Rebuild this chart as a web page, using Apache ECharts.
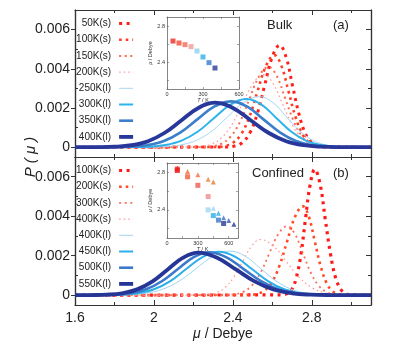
<!DOCTYPE html>
<html>
<head>
<meta charset="utf-8">
<script src="https://cdn.jsdelivr.net/npm/echarts@6/dist/echarts.min.js"></script>
<style>
html, body { margin: 0; padding: 0; background: #fff; }
#chart { width: 401px; height: 349px; }
</style>
</head>
<body>
<div id="chart"></div>
<script>
// ---- data: mu in Debye, P(mu) ----
// (a) Bulk
var bulk50sMu  = [1.6, 2.371, 2.409, 2.447, 2.485, 2.523, 2.561, 2.599, 2.637, 2.670, 2.702, 2.735, 2.767, 2.800, 2.832, 2.865, 3.1];
var bulk50sP   = [0, 0.000011, 0.000058, 0.000228, 0.000704, 0.001688, 0.003154, 0.004589, 0.0052, 0.004589, 0.003154, 0.001688, 0.000704, 0.000228, 0.000058, 0.000011, 0];
var bulk100sMu = [1.6, 2.313, 2.355, 2.398, 2.44, 2.483, 2.525, 2.568, 2.61, 2.646, 2.682, 2.718, 2.754, 2.79, 2.826, 2.862, 3.1];
var bulk100sP  = [0, 0.00001, 0.000052, 0.000206, 0.000636, 0.001526, 0.002851, 0.004148, 0.0047, 0.004148, 0.002851, 0.001526, 0.000636, 0.000206, 0.000052, 0.00001, 0];
var bulk150sMu = [1.6, 2.248, 2.295, 2.343, 2.39, 2.438, 2.485, 2.533, 2.58, 2.623, 2.665, 2.708, 2.75, 2.793, 2.835, 2.878, 3.1];
var bulk150sP  = [0, 0.000009, 0.000046, 0.00018, 0.000555, 0.001331, 0.002487, 0.003618, 0.0041, 0.003618, 0.002487, 0.001331, 0.000555, 0.00018, 0.000046, 0.000009, 0];
var bulk200sMu = [1.6, 2.188, 2.24, 2.293, 2.345, 2.398, 2.45, 2.503, 2.555, 2.603, 2.65, 2.698, 2.745, 2.793, 2.84, 2.888, 3.1];
var bulk200sP  = [0, 0.000008, 0.000041, 0.000162, 0.000501, 0.001201, 0.002244, 0.003265, 0.0037, 0.003265, 0.002244, 0.001201, 0.000501, 0.000162, 0.000041, 0.000008, 0];
var bulk250lMu = [1.6, 1.975, 2.055, 2.135, 2.215, 2.295, 2.375, 2.455, 2.535, 2.603, 2.67, 2.738, 2.805, 2.873, 2.94, 3.008, 3.1];
var bulk250lP  = [0, 0.000006, 0.000029, 0.000113, 0.000349, 0.000838, 0.001565, 0.002277, 0.00258, 0.002277, 0.001565, 0.000838, 0.000349, 0.000113, 0.000029, 0.000006, 0];
var bulk300lMu = [1.6, 1.893, 1.975, 2.058, 2.14, 2.223, 2.305, 2.388, 2.47, 2.545, 2.62, 2.695, 2.77, 2.845, 2.92, 2.995, 3.1];
var bulk300lP  = [0, 0.000005, 0.000027, 0.000108, 0.000333, 0.000799, 0.001492, 0.002171, 0.00246, 0.002171, 0.001492, 0.000799, 0.000333, 0.000108, 0.000027, 0.000005, 0];
var bulk350lMu = [1.6, 1.795, 1.88, 1.965, 2.05, 2.135, 2.22, 2.305, 2.39, 2.473, 2.555, 2.638, 2.72, 2.803, 2.885, 2.968, 3.1];
var bulk350lP  = [0, 0.000005, 0.000026, 0.000103, 0.000317, 0.00076, 0.001419, 0.002065, 0.00234, 0.002065, 0.001419, 0.00076, 0.000317, 0.000103, 0.000026, 0.000005, 0];
var bulk400lMu = [1.6, 1.715, 1.8, 1.885, 1.97, 2.055, 2.14, 2.225, 2.31, 2.4, 2.49, 2.58, 2.67, 2.76, 2.85, 2.94, 3.1];
var bulk400lP  = [0, 0.000005, 0.000025, 0.0001, 0.000307, 0.000737, 0.001377, 0.002003, 0.00227, 0.002003, 0.001377, 0.000737, 0.000307, 0.0001, 0.000025, 0.000005, 0];

// (b) Confined
var conf100sMu = [1.6, 2.651, 2.674, 2.698, 2.721, 2.745, 2.768, 2.792, 2.815, 2.842, 2.868, 2.895, 2.921, 2.948, 2.974, 3.001, 3.1];
var conf100sP  = [0, 0.000014, 0.000071, 0.00028, 0.000862, 0.002068, 0.003863, 0.005622, 0.00637, 0.005622, 0.003863, 0.002068, 0.000862, 0.00028, 0.000071, 0.000014, 0];
var conf200sMu = [1.6, 2.475, 2.515, 2.555, 2.595, 2.635, 2.675, 2.715, 2.755, 2.785, 2.815, 2.845, 2.875, 2.905, 2.935, 2.965, 3.1];
var conf200sP  = [0, 0.00001, 0.00005, 0.000198, 0.000609, 0.001461, 0.002729, 0.003971, 0.0045, 0.003971, 0.002729, 0.001461, 0.000609, 0.000198, 0.00005, 0.00001, 0];
var conf300sMu = [1.6, 2.36, 2.405, 2.45, 2.495, 2.54, 2.585, 2.63, 2.675, 2.715, 2.755, 2.795, 2.835, 2.875, 2.915, 2.955, 3.1];
var conf300sP  = [0, 0.000008, 0.000039, 0.000154, 0.000474, 0.001136, 0.002123, 0.003089, 0.0035, 0.003089, 0.002123, 0.001136, 0.000474, 0.000154, 0.000039, 0.000008, 0];
var conf400sMu = [1.6, 2.225, 2.27, 2.315, 2.36, 2.405, 2.45, 2.495, 2.54, 2.605, 2.67, 2.735, 2.8, 2.865, 2.93, 2.995, 3.1];
var conf400sP  = [0, 0.000006, 0.000031, 0.000124, 0.000382, 0.000916, 0.00171, 0.002489, 0.00282, 0.002489, 0.00171, 0.000916, 0.000382, 0.000124, 0.000031, 0.000006, 0];
var conf400lMu = [1.6, 1.79, 1.875, 1.96, 2.045, 2.13, 2.215, 2.3, 2.385, 2.463, 2.54, 2.618, 2.695, 2.773, 2.85, 2.928, 3.1];
var conf400lP  = [0, 0.000005, 0.000025, 0.000098, 0.000302, 0.000724, 0.001353, 0.001968, 0.00223, 0.001968, 0.001353, 0.000724, 0.000302, 0.000098, 0.000025, 0.000005, 0];
var conf450lMu = [1.6, 1.753, 1.835, 1.918, 2.0, 2.083, 2.165, 2.248, 2.33, 2.413, 2.495, 2.578, 2.66, 2.743, 2.825, 2.908, 3.1];
var conf450lP  = [0, 0.000005, 0.000024, 0.000097, 0.000298, 0.000714, 0.001334, 0.001942, 0.0022, 0.001942, 0.001334, 0.000714, 0.000298, 0.000097, 0.000024, 0.000005, 0];
var conf500lMu = [1.6, 1.72, 1.8, 1.88, 1.96, 2.04, 2.12, 2.2, 2.28, 2.368, 2.455, 2.543, 2.63, 2.718, 2.805, 2.893, 3.1];
var conf500lP  = [0, 0.000005, 0.000024, 0.000095, 0.000294, 0.000705, 0.001316, 0.001915, 0.00217, 0.001915, 0.001316, 0.000705, 0.000294, 0.000095, 0.000024, 0.000005, 0];
var conf550lMu = [1.6, 1.683, 1.76, 1.838, 1.915, 1.993, 2.07, 2.148, 2.225, 2.32, 2.415, 2.51, 2.605, 2.7, 2.795, 2.89, 3.1];
var conf550lP  = [0, 0.000005, 0.000024, 0.000094, 0.000291, 0.000698, 0.001304, 0.001897, 0.00215, 0.001897, 0.001304, 0.000698, 0.000291, 0.000094, 0.000024, 0.000005, 0];

var bulkLabels = ['50K(s)', '100K(s)', '150K(s)', '200K(s)', '250K(l)', '300K(l)', '350K(l)', '400K(l)'];
var confLabels = ['100K(s)', '200K(s)', '300K(s)', '400K(s)', '400K(l)', '450K(l)', '500K(l)', '550K(l)'];

// insets: mean dipole vs T
var insetAT  = [50, 100, 150, 200, 250, 300, 350, 400];
var insetAMu = [2.633, 2.611, 2.593, 2.571, 2.522, 2.456, 2.393, 2.333];
var insetBSquareT  = [100, 100, 200, 300, 400, 400, 450, 500, 550];
var insetBSquareMu = [2.82, 2.835, 2.753, 2.662, 2.542, 2.40, 2.339, 2.291, 2.255];
var insetBTriT  = [100, 200, 300, 400, 450, 450, 500, 550, 600, 650];
var insetBTriMu = [2.845, 2.81, 2.775, 2.727, 2.698, 2.418, 2.364, 2.317, 2.288, 2.247];

var pTicks = [0, 0.002, 0.004, 0.006];
var pMinorTicks = [0.001, 0.003, 0.005];
var insetMuTicks = [2.2, 2.4, 2.6, 2.8];
var insetMuLabels = [2.4, 2.8];

// ---- styles ----
var FONT = 'Liberation Sans, Arial, sans-serif';
var bulkColors = ['#ff1f1a', '#ff3d24', '#ff6a52', '#ff9e9e', '#a6d8f2', '#2db3ec', '#3b7fcb', '#27379a'];
var bulkWidths = [3, 2.6, 2, 1.3, 1, 2, 2.6, 3.8];
var confColors = ['#ff1a1a', '#ff4a26', '#ff6e5a', '#ff9a9a', '#9fd5f0', '#2aafea', '#3b7acb', '#263696'];
var confWidths = [3.2, 2.6, 1.8, 1.2, 1, 2, 2.6, 3.8];
var dashes = [[3, 4.5], [2.6, 4], [2, 3.6], [1.6, 3], 'solid', 'solid', 'solid', 'solid'];
var insetAColors = ['#ee2a1e', '#f0482e', '#f06a5a', '#f09a9a', '#8fd0ef', '#2fb0ea', '#3a7ccc', '#2a3c98'];
var insetBSquareColors = ['#f01818', '#f02a20', '#f25a3a', '#ee5a50', '#f08c8c', '#a0d6f0', '#2aaee8', '#3a78c8', '#283a96'];
var insetBTriColors = ['#f02020', '#f26a3a', '#f27048', '#f08038', '#e87830', '#a0d6f0', '#2aaee8', '#3a78c8', '#3a5ab8', '#283a96'];

var myChart = echarts.init(document.getElementById('chart'), null, {renderer: 'canvas'});

function zip(xs, ys) {
    return xs.map(function (x, i) { return [x, ys[i]]; });
}

function curve(name, mu, p, color, width, dash, xi, yi) {
    return {
        name: name,
        type: 'line',
        xAxisIndex: xi,
        yAxisIndex: yi,
        data: zip(mu, p),
        smooth: 0.4,
        symbol: 'none',
        silent: true,
        lineStyle: {color: color, width: width, type: dash, cap: 'butt'},
        itemStyle: {color: color}
    };
}

function mainX(grid, pos, labels) {
    return {
        type: 'value', gridIndex: grid, position: pos,
        min: 1.6, max: 3.1, interval: 0.4,
        name: labels ? '{i|\u03bc} / Debye' : '',
        nameLocation: 'middle', nameGap: 22,
        nameTextStyle: {fontSize: 14, color: '#222', fontFamily: FONT,
            rich: {i: {fontStyle: 'italic', fontSize: 14, fontFamily: FONT, color: '#222'}}},
        axisLine: {show: true, onZero: false, lineStyle: {color: '#333', width: 1.2}},
        axisTick: {show: true, inside: true, length: 5, lineStyle: {color: '#333'}},
        minorTick: {show: true, splitNumber: 2, length: 3, lineStyle: {color: '#333'}},
        axisLabel: {show: labels, fontSize: 14, color: '#222', fontFamily: FONT, margin: 6, showMaxLabel: false},
        splitLine: {show: false}
    };
}

function mainY(grid, pos, ticks, inside, len, labels) {
    return {
        type: 'value', gridIndex: grid, position: pos,
        min: -0.0005, max: 0.007,
        axisLine: {show: true, onZero: false, lineStyle: {color: '#333', width: 1.2}},
        axisTick: {show: true, inside: inside, length: len, customValues: ticks, lineStyle: {color: '#333'}},
        axisLabel: {
            show: labels, customValues: ticks, fontSize: 14, color: '#222', fontFamily: FONT, margin: 5,
            formatter: function (v) { return v === 0 ? '0' : v.toFixed(3); }
        },
        splitLine: {show: false}
    };
}

function insetX(grid, pos, max, labels) {
    return {
        type: 'value', gridIndex: grid, position: pos,
        min: 0, max: max, interval: 150,
        name: labels ? '{i|T} / K' : '',
        nameLocation: 'middle', nameGap: 7,
        nameTextStyle: {fontSize: 5.5, color: '#333', fontFamily: FONT,
            rich: {i: {fontStyle: 'italic', fontSize: 5.5, color: '#333', fontFamily: FONT}}},
        axisLine: {show: true, onZero: false, lineStyle: {color: '#666', width: 0.8}},
        axisTick: {show: true, inside: true, length: 2, lineStyle: {color: '#666', width: 0.6}},
        axisLabel: {
            show: labels, fontSize: 5.5, color: '#333', fontFamily: FONT, margin: 2,
            formatter: function (v) { return v % 300 === 0 ? String(v) : ''; }
        },
        splitLine: {show: false}
    };
}

function insetY(grid, pos, labels) {
    return {
        type: 'value', gridIndex: grid, position: pos,
        min: 2.1, max: 2.9,
        name: labels ? '{i|\u03bc} / Debye' : '',
        nameLocation: 'middle', nameGap: 11, nameRotate: 90,
        nameTextStyle: {fontSize: 5.5, color: '#333', fontFamily: FONT,
            rich: {i: {fontStyle: 'italic', fontSize: 5.5, color: '#333', fontFamily: FONT}}},
        axisLine: {show: true, onZero: false, lineStyle: {color: '#666', width: 0.8}},
        axisTick: {show: true, inside: true, length: 2, customValues: insetMuTicks, lineStyle: {color: '#666', width: 0.6}},
        axisLabel: {show: labels, customValues: insetMuLabels, fontSize: 5.5, color: '#333', fontFamily: FONT, margin: 2,
            formatter: function (v) { return v.toFixed(1); }},
        splitLine: {show: false}
    };
}

function legendFor(names, top) {
    return {
        data: names,
        orient: 'vertical',
        align: 'right',
        right: 266,
        top: top,
        padding: 0,
        itemWidth: 14,
        itemHeight: 10,
        itemGap: 6.2,
        selectedMode: false,
        formatter: function (n) { return n.split('|')[1]; },
        textStyle: {fontSize: 10, color: '#222', fontFamily: FONT, padding: [0, 3, 0, 0]},
        itemStyle: {color: 'rgba(0,0,0,0)', borderWidth: 0, opacity: 0},
        lineStyle: {width: 'inherit', type: 'inherit'}
    };
}

var bulkMu = [bulk50sMu, bulk100sMu, bulk150sMu, bulk200sMu, bulk250lMu, bulk300lMu, bulk350lMu, bulk400lMu];
var bulkP = [bulk50sP, bulk100sP, bulk150sP, bulk200sP, bulk250lP, bulk300lP, bulk350lP, bulk400lP];
var confMu = [conf100sMu, conf200sMu, conf300sMu, conf400sMu, conf400lMu, conf450lMu, conf500lMu, conf550lMu];
var confP = [conf100sP, conf200sP, conf300sP, conf400sP, conf400lP, conf450lP, conf500lP, conf550lP];

var bulkNames = bulkLabels.map(function (l) { return 'a|' + l; });
var confNames = confLabels.map(function (l) { return 'b|' + l; });

var series = [];
// dotted (solid-phase) curves first so the liquid lines sit on top
for (var i = 0; i < 8; i++) {
    series.push(curve(bulkNames[i], bulkMu[i], bulkP[i], bulkColors[i], bulkWidths[i], dashes[i], 0, 0));
}
for (var j = 0; j < 8; j++) {
    series.push(curve(confNames[j], confMu[j], confP[j], confColors[j], confWidths[j], dashes[j], 2, 4));
}

series.push({
    type: 'scatter', xAxisIndex: 4, yAxisIndex: 8, symbol: 'rect', symbolSize: 5, silent: true,
    data: zip(insetAT, insetAMu),
    itemStyle: {color: function (p) { return insetAColors[p.dataIndex]; }}
});
series.push({
    type: 'scatter', xAxisIndex: 6, yAxisIndex: 10, symbol: 'rect', symbolSize: 5, silent: true,
    data: zip(insetBSquareT, insetBSquareMu),
    itemStyle: {color: function (p) { return insetBSquareColors[p.dataIndex]; }}
});
series.push({
    type: 'scatter', xAxisIndex: 6, yAxisIndex: 10, symbol: 'triangle', symbolSize: 5, silent: true,
    data: zip(insetBTriT, insetBTriMu),
    itemStyle: {color: function (p) { return insetBTriColors[p.dataIndex]; }}
});

var option = {
    animation: false,
    backgroundColor: '#fff',
    textStyle: {fontFamily: FONT},
    grid: [
        {left: 75, top: 10, width: 296, height: 147},
        {left: 75, top: 157, width: 296, height: 148},
        {left: 167, top: 17, width: 72, height: 72},
        {left: 167, top: 163, width: 71, height: 75}
    ],
    xAxis: [
        mainX(0, 'bottom', false), mainX(0, 'top', false),
        mainX(1, 'bottom', true), mainX(1, 'top', false),
        insetX(2, 'bottom', 600, true), insetX(2, 'top', 600, false),
        insetX(3, 'bottom', 690, true), insetX(3, 'top', 690, false)
    ],
    yAxis: [
        mainY(0, 'left', pTicks, false, 4, true), mainY(0, 'left', pMinorTicks, true, 3, false),
        mainY(0, 'right', pTicks, true, 5, false), mainY(0, 'right', pMinorTicks, true, 3, false),
        mainY(1, 'left', pTicks, false, 4, true), mainY(1, 'left', pMinorTicks, true, 3, false),
        mainY(1, 'right', pTicks, true, 5, false), mainY(1, 'right', pMinorTicks, true, 3, false),
        insetY(2, 'left', true), insetY(2, 'right', false),
        insetY(3, 'left', true), insetY(3, 'right', false)
    ],
    legend: [legendFor(bulkNames, 18.5), legendFor(confNames, 165.5)],
    graphic: {
        elements: [
            {type: 'text', x: 31, y: 157, rotation: Math.PI / 2,
                style: {text: 'P ( \u03bc )', font: 'italic 15px ' + FONT, fill: '#222', align: 'center', verticalAlign: 'middle'}},
            {type: 'text', x: 267, y: 25, style: {text: 'Bulk', font: '13px ' + FONT, fill: '#222', verticalAlign: 'middle'}},
            {type: 'text', x: 333, y: 25, style: {text: '(a)', font: '13px ' + FONT, fill: '#222', verticalAlign: 'middle'}},
            {type: 'text', x: 252, y: 173, style: {text: 'Confined', font: '13px ' + FONT, fill: '#222', verticalAlign: 'middle'}},
            {type: 'text', x: 333, y: 173, style: {text: '(b)', font: '13px ' + FONT, fill: '#222', verticalAlign: 'middle'}}
        ]
    },
    series: series
};
myChart.setOption(option);
</script>
</body>
</html>
